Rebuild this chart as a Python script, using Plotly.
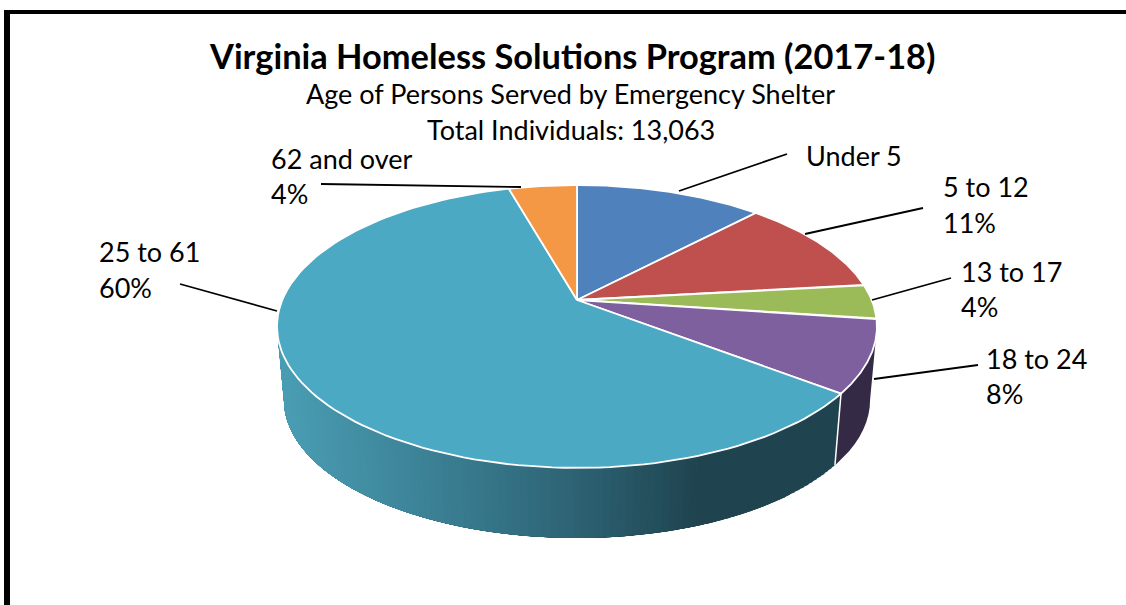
import numpy as np
import plotly.graph_objects as go

# --- data ---
categories = ["Under 5", "5 to 12", "13 to 17", "18 to 24", "25 to 61", "62 and over"]
shares = [12.1, 11.1, 3.9, 8.3, 60.2, 4.4]          # slice sizes as drawn
percent_labels = ["", "11%", "4%", "8%", "60%", "4%"]  # printed labels
slice_colors = ["#4f81bd", "#c0504d", "#9bbb59", "#7f609e", "#4ba9c3", "#f59845"]
wall_colors = {3: "#352a45"}

title = "Virginia Homeless Solutions Program (2017-18)"
subtitle = "Age of Persons Served by Emergency Shelter"
total_line = "Total Individuals: 13,063"

# --- layout / style ---
W, H = 1126, 605
FONT = "Lato"
CX, CY = 577, 300
A, B, K = 294.7, 136.5, 0.187     # perspective of the disc
DEPTH_SCALE, DEPTH_Y = 0.977, 74   # lower rim
label_pos = [(803.5, 155), (940.5, 186), (958.5, 271), (984, 358), (96.5, 251), (268.5, 158)]
pct_pos = [None, (940.5, 222), (958.5, 306), (984, 393), (96.5, 287), (268.5, 193)]
leaders = [((679, 191), (787, 154)), ((805, 234), (923, 208)), ((872, 300), (951, 278)),
           ((874, 379), (978, 365)), ((277, 311), (180, 284)), ((521, 187), (321, 184))]
grad_stops = [(280, (74, 158, 180)), (470, (56, 121, 141)), (580, (45, 98, 115)),
              (700, (31, 68, 79)), (840, (31, 68, 79))]

cum = np.cumsum([0] + shares) / sum(shares) * 2 * np.pi
silhouette = np.arccos(-K)  # angle where rim reaches its widest point


def rim(theta, scale=1.0, dy=0.0):
    x, y = np.sin(theta), np.cos(theta)
    d = 1 + K * y
    return CX + scale * A * x / d, CY + dy - scale * B * y / d


def grad(x):
    xs = [s[0] for s in grad_stops]
    c = [np.interp(x, xs, [s[1][i] for s in grad_stops]) for i in range(3)]
    return "rgb(%d,%d,%d)" % tuple(c)


fig = go.Figure()


def poly(xs, ys, fill, line=None, width=1.0):
    fig.add_trace(go.Scatter(x=xs, y=ys, mode="lines", fill="toself", fillcolor=fill,
                             line=dict(color=line or fill, width=width),
                             hoverinfo="skip", showlegend=False))


def wall_quad(t0, t1, color):
    th = np.linspace(t0, t1, 10)
    x0, y0 = rim(th)
    x1, y1 = rim(th[::-1], DEPTH_SCALE, DEPTH_Y)
    poly(np.r_[x0, x1, x0[0]], np.r_[y0, y1, y0[0]], color, width=0)


# side wall: purple slice, then the long teal slice as a gradient; each band runs
# under the next one so no seams show between them
wall_quad(silhouette, cum[4], wall_colors[3])
wall_end = 2 * np.pi - silhouette
edges = np.linspace(cum[4], wall_end, 110)
for t0, t1 in zip(edges[:-1], edges[1:]):
    xm, _ = rim((t0 + t1) / 2)
    wall_quad(t0, wall_end, grad(xm))

# wall edge between the two slices
ex0, ey0 = rim(cum[4])
ex1, ey1 = rim(cum[4], DEPTH_SCALE, DEPTH_Y)
fig.add_trace(go.Scatter(x=[ex0, ex1], y=[ey0, ey1], mode="lines",
                         line=dict(color="white", width=1.5), hoverinfo="skip", showlegend=False))

# top slices
for i, c in enumerate(slice_colors):
    th = np.linspace(cum[i], cum[i + 1], 120)
    x, y = rim(th)
    poly(np.r_[CX, x, CX], np.r_[CY, y, CY], c, line="white", width=1.8)

# leader lines
for (a, b) in leaders:
    fig.add_trace(go.Scatter(x=[a[0], b[0]], y=[a[1], b[1]], mode="lines",
                             line=dict(color="black", width=1.8), hoverinfo="skip", showlegend=False))

# frame
for xs, ys, w in [([7, 7], [605, 12], 6), ([4, 1126], [12, 12], 4)]:
    fig.add_trace(go.Scatter(x=xs, y=ys, mode="lines", line=dict(color="black", width=w),
                             hoverinfo="skip", showlegend=False))


def text(s, x, y, size, anchor="left", bold=False):
    fig.add_annotation(x=x, y=y, text=f"<b>{s}</b>" if bold else s, showarrow=False,
                       xanchor=anchor, yanchor="middle", xref="x", yref="y",
                       font=dict(family=FONT, size=size, color="black"))


text(title, 571.5, 55.5, 34.4, "center", True)
text(subtitle, 570.5, 93.5, 27, "center")
text(total_line, 570.5, 129.5, 27, "center")
for cat, p, lab, q in zip(categories, label_pos, percent_labels, pct_pos):
    text(cat, p[0], p[1], 27)
    if q:
        text(lab, q[0], q[1], 27)

fig.update_layout(width=W, height=H, margin=dict(l=0, r=0, t=0, b=0),
                  paper_bgcolor="white", plot_bgcolor="white", showlegend=False,
                  xaxis=dict(range=[0, W], visible=False, fixedrange=True),
                  yaxis=dict(range=[H, 0], visible=False, fixedrange=True))
fig.write_html("out.html", config={"displayModeBar": False}, default_width=W, default_height=H,
               post_script="document.body.style.margin='0';document.documentElement.style.overflow='hidden';")
